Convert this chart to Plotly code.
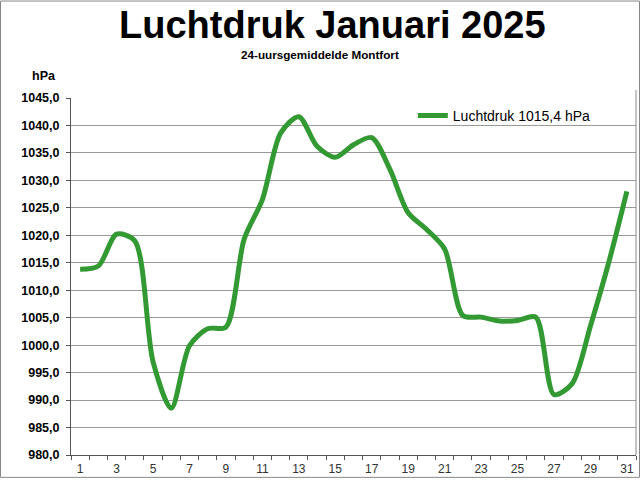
import plotly.graph_objects as go

# daily means, January 2025 (hPa)
days = list(range(1, 32))
pressure = [1013.8, 1014.4, 1020.2, 1019.0, 997.0, 988.5, 999.9, 1003.0, 1003.3, 1019.3,
            1026.5, 1038.6, 1041.6, 1036.2, 1034.2, 1036.5, 1037.8, 1032.0, 1024.1, 1021.1,
            1017.5, 1005.4, 1005.1, 1004.4, 1004.5, 1005.1, 991.0, 993.0, 1003.5, 1015.0,
            1028.0]
legend_label = "Luchtdruk 1015,4 hPa"
x_ticks = list(range(1, 32, 2))

W, H = 640, 480
ml, mr, mt, mb = 71, 4, 98, 23
pw, ph = W - ml - mr, H - mt - mb

fig = go.Figure()
fig.add_trace(go.Scatter(
    x=days, y=pressure, mode="lines", name=legend_label,
    line=dict(color="#339933", width=5, shape="spline", smoothing=0.8),
))

fig.update_layout(
    width=W, height=H,
    margin=dict(l=ml, r=mr, t=mt, b=mb),
    plot_bgcolor="white", paper_bgcolor="white",
    separators=",.",
    font=dict(family="Liberation Sans, Arial", color="black"),
    showlegend=True,
    legend=dict(x=0.605, y=0.995, xanchor="left", yanchor="top",
                bgcolor="rgba(0,0,0,0)", font=dict(size=14),
                itemwidth=30),
    xaxis=dict(
        range=[0.5, 31.5], tickvals=x_ticks, ticks="", showgrid=False,
        showline=True, linecolor="#555", linewidth=1, zeroline=False,
        tickfont=dict(size=12, color="#333"), ticklabelstandoff=3,
        minor=dict(ticks="outside", ticklen=4, tick0=0.5, dtick=1, tickcolor="#555", showgrid=False),
    ),
    yaxis=dict(
        range=[980, 1045], dtick=5, tick0=980, tickformat=".1f",
        ticks="outside", ticklen=4, tickcolor="#555", ticklabelstandoff=4,
        showgrid=True, gridcolor="#999", gridwidth=1, zeroline=False,
        showline=True, linecolor="#555", linewidth=1,
        tickprefix="<b>", ticksuffix="</b>",
        tickfont=dict(size=12.5, color="black"),
    ),
)

fig.add_annotation(text="<b>Luchtdruk Januari 2025</b>", xref="paper", yref="paper",
                   x=(332 - ml) / pw, y=1 + (mt - 25) / ph,
                   xanchor="center", yanchor="middle", showarrow=False,
                   font=dict(size=38))
fig.add_annotation(text="<b>24-uursgemiddelde Montfort</b>", xref="paper", yref="paper",
                   x=(320 - ml) / pw, y=1 + (mt - 54) / ph,
                   xanchor="center", yanchor="middle", showarrow=False,
                   font=dict(size=11.7))
fig.add_annotation(text="<b>hPa</b>", xref="paper", yref="paper",
                   x=(44 - ml) / pw, y=1 + (mt - 76) / ph,
                   xanchor="center", yanchor="middle", showarrow=False,
                   font=dict(size=12.5))

# right frame line of plot area
fig.add_shape(type="line", xref="paper", yref="paper", x0=1, x1=1, y0=0, y1=1 + 8 / ph,
              line=dict(color="#888", width=1))
# outer border of the picture
fig.add_shape(type="rect", xref="paper", yref="paper",
              x0=(0.5 - ml) / pw, x1=1 + (mr - 0.5) / pw,
              y0=-(mb - 0.5) / ph, y1=1 + (mt - 0.5) / ph,
              line=dict(color="#888", width=1))

fig.write_html("out.html", config={"displayModeBar": False},
               post_script="document.body.style.margin='0';")
